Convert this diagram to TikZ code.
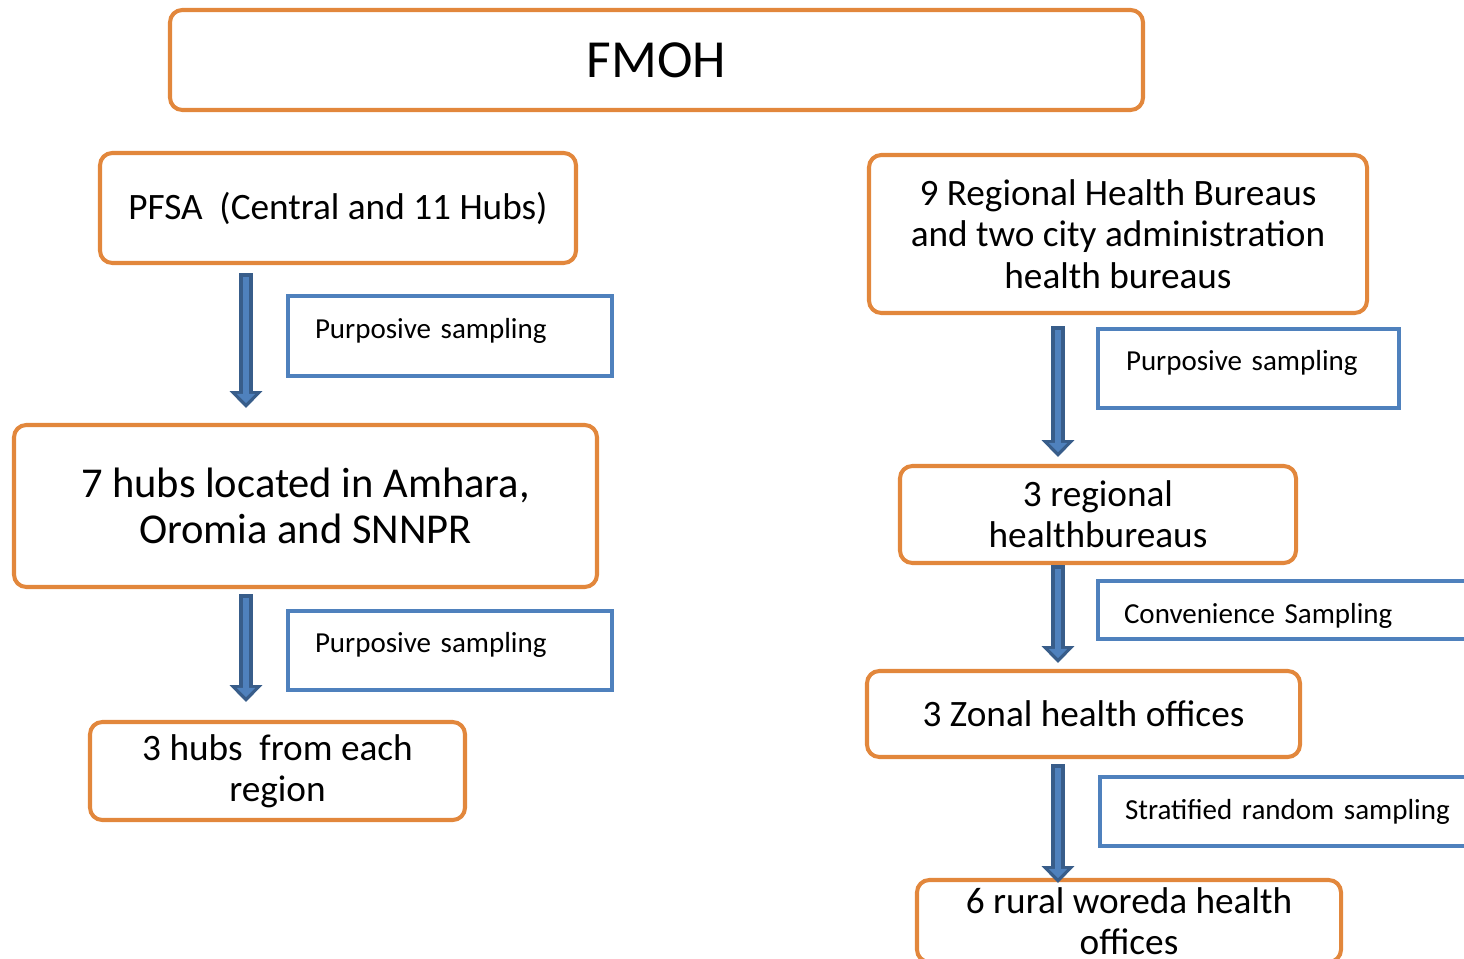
\documentclass[tikz,border=0pt]{standalone}
\usepackage{fontspec}
\setmainfont{Carlito}
\usepackage{tikz}
\usetikzlibrary{arrows.meta,positioning,calc}

\definecolor{boxorange}{RGB}{226,135,60}
\definecolor{sampleblue}{RGB}{79,129,189}
\definecolor{arrowdark}{RGB}{56,93,138}
\definecolor{arrowfill}{RGB}{79,129,189}

\tikzset{
    levelbox/.style={draw=boxorange, line width=2.3pt, rounded corners=7pt, align=center,
        inner sep=2pt, font=\fontsize{21.2}{23.5}\selectfont},
    samplebox/.style={draw=sampleblue, line width=2.8pt, align=left, inner xsep=0.42cm,
        font=\fontsize{16.5}{20}\selectfont},
    flowarrow/.style={draw=arrowdark, line width=8.5pt,
        -{Triangle[length=9.6pt,width=18.7pt,line width=0pt]},
        postaction={draw=arrowfill, line width=3.8pt, shorten <=2.2pt, shorten >=2.8pt,
            -{Triangle[length=5.2pt,width=10.5pt,line width=0pt]}}}
}

\begin{document}
\begin{tikzpicture}
    \clip (0,0) rectangle (29.28,-19.18);

    \node[levelbox, minimum width=19.46cm, minimum height=2cm, font=\fontsize{30.5}{36}\selectfont] (fmoh) at (13.13,-1.2) {FMOH};

    % left branch
    \node[levelbox, minimum width=9.52cm, minimum height=2.2cm] (pfsa) at (6.76,-4.16) {PFSA~ (Central and 11 Hubs)};
    \node[samplebox, minimum width=6.48cm, minimum height=1.6cm, text width=5.4cm, text depth=0.32cm] (pur1) at (9.0,-6.72) {Purposive sampling};
    \node[levelbox, minimum width=11.66cm, minimum height=3.24cm, font=\fontsize{24.2}{26.6}\selectfont] (hubs7) at (6.11,-10.12) {7 hubs located in Amhara,\\Oromia and SNNPR};
    \node[samplebox, minimum width=6.48cm, minimum height=1.58cm, text width=5.4cm, text depth=0.32cm] (pur2) at (9.0,-13.01) {Purposive sampling};
    \node[levelbox, minimum width=7.5cm, minimum height=1.96cm] (hubs3) at (5.55,-15.42) {3 hubs~ from each\\region};

    % right branch
    \node[levelbox, minimum width=9.96cm, minimum height=3.16cm] (rhb) at (22.36,-4.68) {9 Regional Health Bureaus\\and two city administration\\health bureaus};
    \node[samplebox, minimum width=6.02cm, minimum height=1.58cm, text width=4.9cm, text depth=0.32cm] (pur3) at (24.97,-7.37) {Purposive sampling};
    \node[levelbox, minimum width=7.92cm, minimum height=1.94cm] (reg3) at (21.96,-10.29) {3 regional\\healthbureaus};
    \node[samplebox, minimum width=8.64cm, minimum height=1.16cm, text width=7.6cm, text height=0.64cm] (conv) at (26.28,-12.2) {Convenience Sampling};
    \node[levelbox, minimum width=8.66cm, minimum height=1.72cm] (zonal) at (21.67,-14.28) {3 Zonal health offices};
    \node[samplebox, minimum width=8.6cm, minimum height=1.38cm, text width=7.6cm] (strat) at (26.3,-16.23) {Stratified random sampling};
    \node[levelbox, minimum width=8.48cm, minimum height=1.64cm] (rural) at (22.58,-18.42) {6 rural woreda health\\offices};

    \coordinate (a1s) at ($(pfsa.south west)+(2.96,-0.16)$);
    \coordinate (a1e) at ($(a1s |- hubs7.north)+(0,0.3)$);
    \coordinate (a2s) at ($(hubs7.south west)+(4.68,-0.1)$);
    \coordinate (a2e) at ($(a2s |- hubs3.north)+(0,0.36)$);
    \coordinate (a3s) at ($(rhb.south west)+(3.82,-0.22)$);
    \coordinate (a3e) at ($(a3s |- reg3.north)+(0,0.14)$);
    \coordinate (a4s) at ($(reg3.south west)+(3.2,0)$);
    \coordinate (a4e) at ($(a4s |- zonal.north)+(0,0.12)$);
    \coordinate (a5s) at ($(zonal.south west)+(3.86,-0.1)$);
    \coordinate (a5e) at ($(a5s |- rural.north)+(0,-0.1)$);

    \draw[flowarrow] (a1s) -- (a1e);
    \draw[flowarrow] (a2s) -- (a2e);
    \draw[flowarrow] (a3s) -- (a3e);
    \draw[flowarrow] (a4s) -- (a4e);
    \draw[flowarrow] (a5s) -- (a5e);
\end{tikzpicture}
\end{document}
